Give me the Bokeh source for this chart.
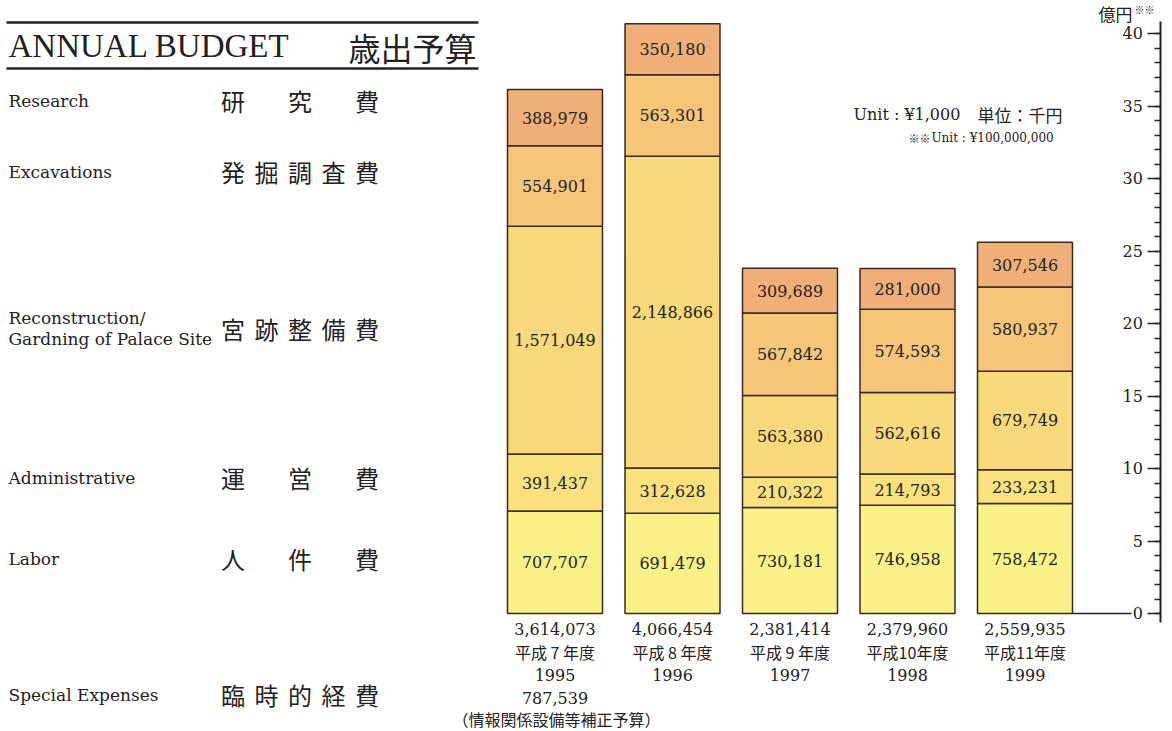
from bokeh.plotting import figure
from bokeh.models import ColumnDataSource, LinearAxis, FixedTicker, Range1d
from bokeh.core.properties import value
from bokeh.embed import file_html
from bokeh.resources import INLINE

# ---------------- data (thousand yen) ----------------
years = ["1995", "1996", "1997", "1998", "1999"]
era_labels = ["平成 7 年度", "平成 8 年度", "平成 9 年度", "平成10年度", "平成11年度"]
labor = [707707, 691479, 730181, 746958, 758472]
administrative = [391437, 312628, 210322, 214793, 233231]
reconstruction = [1571049, 2148866, 563380, 562616, 679749]
excavations = [554901, 563301, 567842, 574593, 580937]
research = [388979, 350180, 309689, 281000, 307546]
totals = [3614073, 4066454, 2381414, 2379960, 2559935]
special_1995 = 787539

axis_ticks = [0, 5, 10, 15, 20, 25, 30, 35, 40]
axis_minor = list(range(0, 41))

categories_en = ["Research", "Excavations", "Reconstruction/\nGardning of Palace Site",
                 "Administrative", "Labor", "Special Expenses"]
categories_ja = ["研究費", "発掘調査費", "宮跡整備費", "運営費", "人件費", "臨時的経費"]

colors = ["#FBF287", "#F9E27E", "#F8D97C", "#F5C57A", "#F1AF78"]
series = [labor, administrative, reconstruction, excavations, research]
names = ["labor", "administrative", "reconstruction", "excavations", "research"]

W, H = 1172, 731
AXIS_X = 1160
SERIF = value("DejaVu Serif")
JP = value("Noto Sans CJK JP")
INK = "#222222"


def X(px):  # reference-pixel x -> data x
    return (px - 554.5) / 117.5


def Y(py):  # reference-pixel y -> data y (億円)
    return (613.0 - py) / 14.5


p = figure(width=W, height=H, output_backend="svg", toolbar_location=None,
           x_range=Range1d(X(0), X(AXIS_X)), y_range=Range1d(Y(H), Y(0)),
           x_axis_location=None, y_axis_location=None,
           min_border_left=0, min_border_top=0, min_border_bottom=0,
           min_border_right=W - AXIS_X)
p.outline_line_color = None
p.background_fill_color = "white"
p.border_fill_color = "white"
p.xgrid.visible = False
p.ygrid.visible = False

# ---------------- bars ----------------
src = ColumnDataSource(dict(x=list(range(len(years))),
                            **{n: [v / 1e5 for v in s] for n, s in zip(names, series)}))
p.vbar_stack(names, x="x", width=95 / 117.5, source=src, fill_color=colors,
             line_color="#3a2a1e", line_width=1.5)

lx, ly, lt = [], [], []
for i in range(len(years)):
    base = 0.0
    for s in series:
        v = s[i] / 1e5
        lx.append(i)
        ly.append(base + v / 2)
        lt.append(f"{s[i]:,}")
        base += v
p.text(lx, ly, text=lt, text_align="center", text_baseline="middle",
       text_font=SERIF, text_font_size="16px", text_color=INK)

# baseline from last bar to the axis
p.segment(x0=[len(years) - 1 + 0.5 * 95 / 117.5], y0=[0], x1=[X(1131)], y1=[0],
          line_color=INK, line_width=1.5)

# labels under the bars
xs = list(range(len(years)))
p.text(xs, [Y(628)] * 5, text=[f"{t:,}" for t in totals], text_align="center",
       text_baseline="middle", text_font=SERIF, text_font_size="16px", text_color=INK)
p.text(xs, [Y(651)] * 5, text=era_labels, text_align="center",
       text_baseline="middle", text_font=JP, text_font_size="16px", text_color=INK)
p.text(xs, [Y(674)] * 5, text=years, text_align="center",
       text_baseline="middle", text_font=SERIF, text_font_size="16px", text_color=INK)
p.text([0], [Y(697)], text=[f"{special_1995:,}"], text_align="center",
       text_baseline="middle", text_font=SERIF, text_font_size="16px", text_color=INK)
p.text([X(556)], [Y(718)], text=["（情報関係設備等補正予算）"], text_align="center",
       text_baseline="middle", text_font=JP, text_font_size="16px", text_color=INK)

# ---------------- right axis ----------------
overrides = {0: "\u20070", 5: "\u20075"}
ax = LinearAxis(ticker=FixedTicker(ticks=axis_ticks, minor_ticks=axis_minor),
                bounds=(Y(622), Y(21)),
                major_tick_in=13, major_tick_out=0, minor_tick_in=6, minor_tick_out=0,
                major_label_standoff=-38, major_label_overrides=overrides,
                axis_line_width=2, axis_line_color=INK,
                major_tick_line_width=1.5, major_tick_line_color=INK,
                minor_tick_line_width=1.5, minor_tick_line_color=INK,
                major_label_text_font="DejaVu Serif", major_label_text_font_size="16px",
                major_label_text_color=INK)
p.add_layout(ax, "right")

p.text([X(1098)], [Y(13)], text=["億円"], text_align="left", text_baseline="middle",
       text_font=JP, text_font_size="17px", text_color=INK)
p.text([X(1134)], [Y(9)], text=["※※"], text_align="left", text_baseline="middle",
       text_font=JP, text_font_size="10px", text_color=INK)

# unit note
p.text([X(853)], [Y(114)], text=["Unit : ¥1,000"], text_align="left", text_baseline="middle",
       text_font=SERIF, text_font_size="16px", text_color=INK)
p.text([X(977)], [Y(114)], text=["単位：千円"], text_align="left", text_baseline="middle",
       text_font=JP, text_font_size="17px", text_color=INK)
p.text([X(930)], [Y(137)], text=["※※"], text_align="right", text_baseline="middle",
       text_font=JP, text_font_size="11px", text_color=INK)
p.text([X(931)], [Y(137)], text=["Unit : ¥100,000,000"], text_align="left",
       text_baseline="middle", text_font=SERIF, text_font_size="12px", text_color=INK)

# ---------------- left panel ----------------
p.segment(x0=[X(6), X(6)], y0=[Y(22), Y(68)], x1=[X(478), X(478)], y1=[Y(22), Y(68)],
          line_color=INK, line_width=2.5)
p.text([X(8)], [Y(45)], text=["ANNUAL BUDGET"], text_align="left", text_baseline="middle",
       text_font=value("Liberation Serif"), text_font_size="33px", text_color=INK)
p.text([X(476)], [Y(46)], text=["歳出予算"], text_align="right", text_baseline="middle",
       text_font=JP, text_font_size="32px", text_color=INK)

row_y = [100, 171, 328, 477, 558, 694]
en_x, en_y, en_t = [], [], []
for lab, yy in zip(categories_en, row_y):
    parts = lab.split("\n")
    if len(parts) == 1:
        en_x.append(X(8)); en_y.append(Y(yy)); en_t.append(parts[0])
    else:
        en_x += [X(8), X(8)]
        en_y += [Y(yy - 11), Y(yy + 10)]
        en_t += parts
p.text(en_x, en_y, text=en_t, text_align="left", text_baseline="middle",
       text_font=SERIF, text_font_size="17px", text_color=INK)

jx, jy, jt = [], [], []
for lab, yy in zip(categories_ja, row_y):
    slots = [0, 2, 4] if len(lab) == 3 else list(range(5))
    for ch, k in zip(lab, slots):
        jx.append(X(232.5 + 33.5 * k)); jy.append(Y(yy)); jt.append(ch)
p.text(jx, jy, text=jt, text_align="center", text_baseline="middle",
       text_font=JP, text_font_size="24px", text_color=INK)

open("out.html", "w").write(file_html(p, INLINE))
